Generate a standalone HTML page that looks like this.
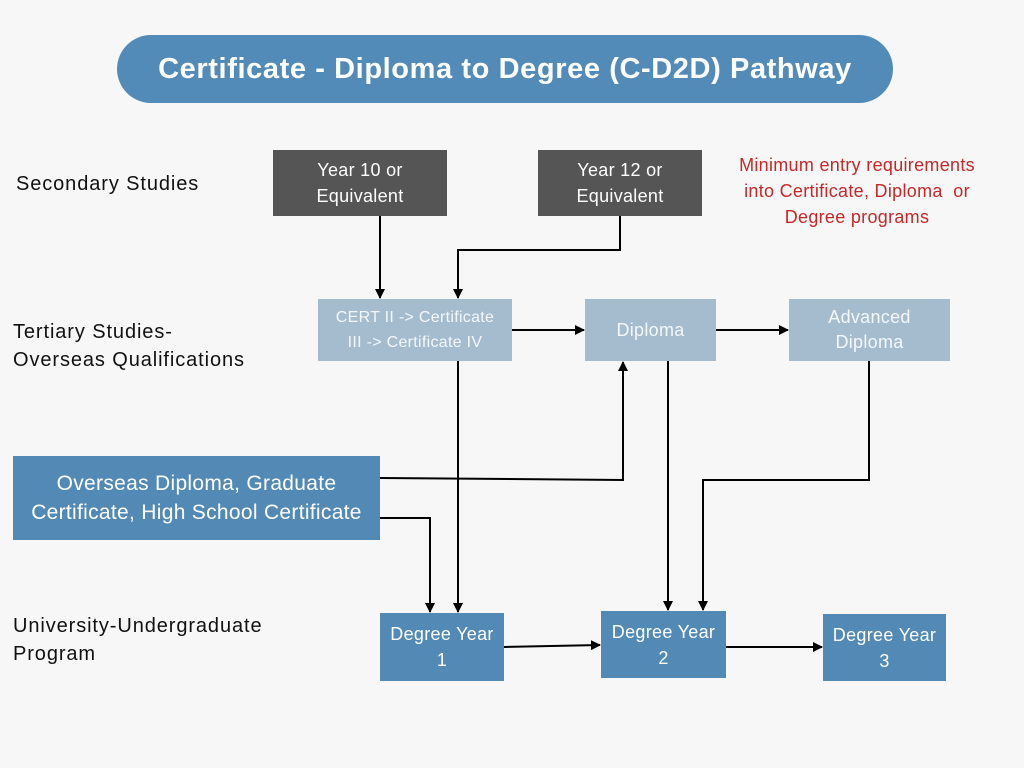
<!DOCTYPE html>
<html><head><meta charset="utf-8"><style>
body{margin:0;width:1024px;height:768px;background:#f7f7f7;position:relative;overflow:hidden;font-family:"Liberation Sans",sans-serif}
.b{position:absolute;display:flex;align-items:center;justify-content:center;text-align:center;color:#fff;font-size:18px;line-height:26px;letter-spacing:0.3px}
.d{background:#555555}.l{background:#a5bccf;color:#f4f7fa;font-size:16px;line-height:25px}.u{background:#5289b5}
.t{position:absolute;color:#111;font-size:20px;line-height:28px;letter-spacing:0.9px}
svg{position:absolute;left:0;top:0}
</style></head><body>
<div class="b" style="left:117px;top:35px;width:776px;height:68px;border-radius:34px;background:#538bb8;font-weight:bold;font-size:29px;letter-spacing:0.6px">Certificate - Diploma to Degree (C-D2D) Pathway</div>
<div class="t" style="left:16px;top:170px">Secondary Studies</div>
<div class="t" style="left:13px;top:318px">Tertiary Studies-<br>Overseas Qualifications</div>
<div class="t" style="left:13px;top:612px">University-Undergraduate<br>Program</div>
<div class="t" style="left:722px;top:152px;width:270px;text-align:center;color:#c62828;font-size:18px;line-height:26px;letter-spacing:0.3px">Minimum entry requirements<br>into Certificate, Diploma&nbsp; or<br>Degree programs</div>
<div class="b d" style="left:273px;top:150px;width:174px;height:66px">Year 10 or<br>Equivalent</div>
<div class="b d" style="left:538px;top:150px;width:164px;height:66px">Year 12 or<br>Equivalent</div>
<div class="b l" style="left:318px;top:299px;width:194px;height:62px">CERT II -&gt; Certificate<br>III -&gt; Certificate IV</div>
<div class="b l" style="left:585px;top:299px;width:131px;height:62px;font-size:18px">Diploma</div>
<div class="b l" style="left:789px;top:299px;width:161px;height:62px;font-size:18px">Advanced<br>Diploma</div>
<div class="b u" style="left:13px;top:456px;width:367px;height:84px;font-size:21px;line-height:29px">Overseas Diploma, Graduate<br>Certificate, High School Certificate</div>
<div class="b u" style="left:380px;top:613px;width:124px;height:68px">Degree Year<br>1</div>
<div class="b u" style="left:601px;top:611px;width:125px;height:67px">Degree Year<br>2</div>
<div class="b u" style="left:823px;top:614px;width:123px;height:67px">Degree Year<br>3</div>
<svg width="1024" height="768"><defs><marker id="a" markerWidth="10" markerHeight="10" refX="9" refY="5" orient="auto" markerUnits="userSpaceOnUse"><path d="M0,0L10,5L0,10z" fill="#000"/></marker></defs>
<g stroke="#000" stroke-width="2" fill="none" marker-end="url(#a)">
<path d="M380,216V298"/>
<path d="M620,216V250H458V298"/>
<path d="M512,330H584"/>
<path d="M716,330H788"/>
<path d="M380,478L623,480V362"/>
<path d="M380,518H430V612"/>
<path d="M458,361V612"/>
<path d="M668,361V610"/>
<path d="M869,361V480H703V610"/>
<path d="M504,647L600,645"/>
<path d="M726,647H822"/>
</g></svg>
</body></html>
